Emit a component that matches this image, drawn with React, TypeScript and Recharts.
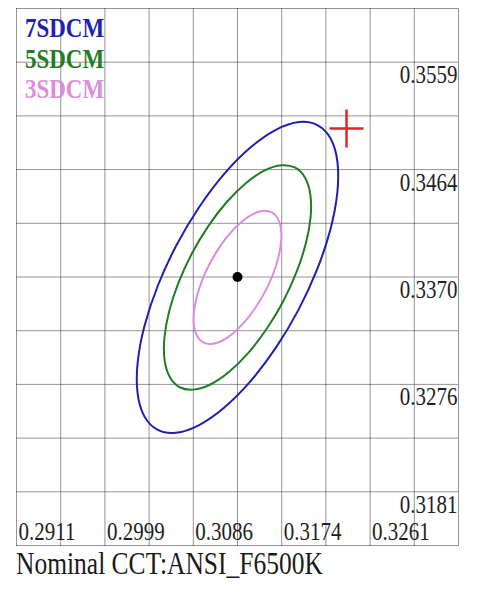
import React from 'react';
import { ScatterChart, Scatter, XAxis, YAxis, CartesianGrid, Legend } from 'recharts';

// grid line positions (every grid line of the chart)
const xGrid = [0.2911, 0.29547, 0.29984, 0.30421, 0.30858, 0.31295, 0.31732, 0.32169, 0.32606, 0.33043, 0.3348];
const yGrid = [0.313375, 0.3181, 0.322825, 0.32755, 0.332275, 0.337, 0.341725, 0.34645, 0.351175, 0.3559, 0.360625];

// labelled ticks
const xTickValues = [0.2911, 0.29984, 0.30858, 0.31732, 0.32606];
const xTickLabels = ['0.2911', '0.2999', '0.3086', '0.3174', '0.3261'];
const yTickValues = [0.3181, 0.32755, 0.337, 0.34645, 0.3559];
const yTickLabels = ['0.3181', '0.3276', '0.3370', '0.3464', '0.3559'];

// 7-step ellipse outline
const sdcm7X = [0.32088, 0.32217, 0.32283, 0.32282, 0.32214, 0.32083, 0.31899, 0.31673, 0.31422, 0.31162, 0.30911, 0.30686, 0.30503, 0.30373, 0.30307, 0.30308, 0.30376, 0.30507, 0.30691, 0.30917, 0.31168, 0.31428, 0.31679, 0.31904];
const sdcm7Y = [0.35035, 0.34917, 0.34714, 0.34443, 0.34121, 0.33769, 0.33413, 0.33076, 0.32781, 0.32549, 0.32395, 0.32329, 0.32357, 0.32476, 0.32678, 0.32949, 0.33271, 0.33623, 0.33979, 0.34316, 0.34611, 0.34843, 0.34997, 0.35063];

// 5-step ellipse outline
const sdcm5X = [0.31866, 0.31963, 0.32015, 0.32018, 0.31971, 0.31878, 0.31746, 0.31582, 0.314, 0.3121, 0.31026, 0.3086, 0.30724, 0.30627, 0.30575, 0.30572, 0.30619, 0.30712, 0.30844, 0.31008, 0.31191, 0.3138, 0.31564, 0.3173];
const sdcm5Y = [0.34662, 0.34574, 0.34427, 0.3423, 0.33996, 0.33742, 0.33485, 0.33242, 0.3303, 0.32864, 0.32754, 0.32709, 0.3273, 0.32818, 0.32965, 0.33163, 0.33396, 0.3365, 0.33907, 0.3415, 0.34362, 0.34528, 0.34638, 0.34683];

// 3-step ellipse outline
const sdcm3X = [0.31634, 0.31692, 0.31724, 0.31726, 0.31699, 0.31645, 0.31566, 0.31469, 0.31361, 0.31247, 0.31138, 0.31038, 0.30956, 0.30898, 0.30866, 0.30864, 0.30891, 0.30945, 0.31024, 0.31121, 0.31229, 0.31343, 0.31452, 0.31552];
const sdcm3Y = [0.34268, 0.34216, 0.34128, 0.34011, 0.33872, 0.33721, 0.33569, 0.33425, 0.333, 0.33201, 0.33137, 0.3311, 0.33124, 0.33176, 0.33264, 0.33381, 0.3352, 0.33671, 0.33823, 0.33967, 0.34092, 0.34191, 0.34255, 0.34282];

const centerPoint = [{ x: 0.31295, y: 0.337 }];
const measuredPoint = [{ x: 0.32373, y: 0.35007 }];

const legendNames = ['7SDCM', '5SDCM', '3SDCM'];
const BLUE = '#1f1fb0';
const GREEN = '#1f7d24';
const PINK = '#dc8ddc';
const legendColors = [BLUE, GREEN, PINK];

const toPoints = (xs: number[], ys: number[]) => xs.map((x, i) => ({ x, y: ys[i] }));
const data7 = toPoints(sdcm7X, sdcm7Y);
const data5 = toPoints(sdcm5X, sdcm5Y);
const data3 = toPoints(sdcm3X, sdcm3Y);

const SERIF = '"Liberation Serif", "Times New Roman", serif';

// closed Catmull-Rom curve through the points
const smoothClosed: any = (context: any) => {
  let pts: number[][] = [];
  return {
    areaStart() {},
    areaEnd() {},
    lineStart() {
      pts = [];
    },
    point(x: number, y: number) {
      pts.push([+x, +y]);
    },
    lineEnd() {
      const n = pts.length;
      if (!n) return;
      context.moveTo(pts[0][0], pts[0][1]);
      for (let i = 0; i < n; i++) {
        const p0 = pts[(i - 1 + n) % n];
        const p1 = pts[i];
        const p2 = pts[(i + 1) % n];
        const p3 = pts[(i + 2) % n];
        context.bezierCurveTo(
          p1[0] + (p2[0] - p0[0]) / 6,
          p1[1] + (p2[1] - p0[1]) / 6,
          p2[0] - (p3[0] - p1[0]) / 6,
          p2[1] - (p3[1] - p1[1]) / 6,
          p2[0],
          p2[1]
        );
      }
      context.closePath();
    },
  };
};

const findIdx = (vals: number[], v: number) => vals.findIndex((t) => Math.abs(t - v) < 1e-6);

const XTick = (props: any) => {
  const { x, y, payload } = props;
  const i = findIdx(xTickValues, payload.value);
  if (i < 0) return <g />;
  return (
    <text
      transform={`translate(${x + 2},${y - 5.5}) scale(1,1.2)`}
      fontFamily={SERIF}
      fontSize={21}
      fill="#1e1e1e"
      textAnchor="start"
    >
      {xTickLabels[i]}
    </text>
  );
};

const YTick = (props: any) => {
  const { x, y, payload } = props;
  const i = findIdx(yTickValues, payload.value);
  if (i < 0) return <g />;
  return (
    <text
      transform={`translate(${x - 1},${y + 21}) scale(1,1.2)`}
      fontFamily={SERIF}
      fontSize={21}
      fill="#1e1e1e"
      textAnchor="end"
    >
      {yTickLabels[i]}
    </text>
  );
};

const LegendContent = () => (
  <svg width={120} height={110}>
    {legendNames.map((name, i) => (
      <text
        key={name}
        transform={`translate(17,${29 + i * 30.5}) scale(1,1.15)`}
        fontFamily={SERIF}
        fontWeight="bold"
        fontSize={23}
        fill={legendColors[i]}
      >
        {name}
      </text>
    ))}
  </svg>
);

const Cross = (props: any) => {
  const { cx, cy } = props;
  return (
    <g stroke="#e02424" strokeWidth={2.5}>
      <line x1={cx - 17} y1={cy} x2={cx + 17} y2={cy} />
      <line x1={cx} y1={cy - 19} x2={cx} y2={cy + 19} />
    </g>
  );
};

const Dot = (props: any) => <circle cx={props.cx} cy={props.cy} r={5} fill="#000" />;
const NoShape = () => <g />;

export default function App() {
  return (
    <div style={{ width: 460 }}>
      <ScatterChart
        width={460}
        height={541}
        margin={{ top: 0.5, right: 8.5, bottom: 2.5, left: 8.5 }}
      >
        <CartesianGrid stroke="#2a2a2a" strokeDasharray="1 1" />
        <XAxis
          type="number"
          dataKey="x"
          domain={[xGrid[0], xGrid[xGrid.length - 1]]}
          ticks={xGrid}
          interval={0}
          height={1}
          axisLine={false}
          tickLine={false}
          tickSize={0}
          tickMargin={0}
          tick={<XTick />}
          allowDataOverflow
        />
        <YAxis
          type="number"
          dataKey="y"
          orientation="right"
          domain={[yGrid[0], yGrid[yGrid.length - 1]]}
          ticks={yGrid}
          interval={0}
          width={1}
          axisLine={false}
          tickLine={false}
          tickSize={0}
          tickMargin={0}
          tick={<YTick />}
          allowDataOverflow
        />
        <Legend
          layout="horizontal"
          verticalAlign="middle"
          align="center"
          content={<LegendContent />}
          wrapperStyle={{ position: 'absolute', left: 0, top: 0, width: 120, height: 110 }}
        />
        <Scatter
          name={legendNames[0]}
          data={data7}
          line={{ stroke: BLUE, strokeWidth: 2 }}
          lineJointType={smoothClosed}
          shape={NoShape}
          fill={BLUE}
          isAnimationActive={false}
        />
        <Scatter
          name={legendNames[1]}
          data={data5}
          line={{ stroke: GREEN, strokeWidth: 2 }}
          lineJointType={smoothClosed}
          shape={NoShape}
          fill={GREEN}
          isAnimationActive={false}
        />
        <Scatter
          name={legendNames[2]}
          data={data3}
          line={{ stroke: PINK, strokeWidth: 2 }}
          lineJointType={smoothClosed}
          shape={NoShape}
          fill={PINK}
          isAnimationActive={false}
        />
        <Scatter data={centerPoint} shape={Dot} fill="#000" legendType="none" isAnimationActive={false} />
        <Scatter data={measuredPoint} shape={Cross} fill="#e02424" legendType="none" isAnimationActive={false} />
      </ScatterChart>
      <div
        style={{
          fontFamily: SERIF,
          fontSize: 25.5,
          lineHeight: '30px',
          height: 30,
          marginTop: 2,
          marginLeft: 8,
          color: '#1a1a1a',
          whiteSpace: 'nowrap',
          transform: 'scaleY(1.25)',
          transformOrigin: '0 23.6px',
        }}
      >
        Nominal CCT:ANSI_F6500K
      </div>
    </div>
  );
}
